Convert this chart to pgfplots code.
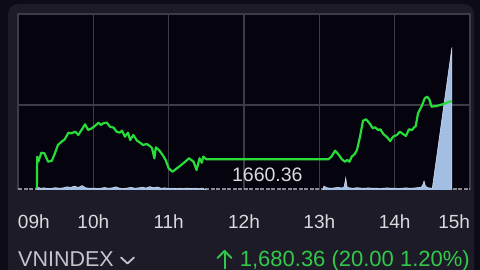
\documentclass[border=0pt]{standalone}
\usepackage{fontspec}
\setmainfont{Liberation Sans}
\usepackage{pgfplots}
\pgfplotsset{compat=1.18}
\definecolor{outerbg}{HTML}{0C0B17}
\definecolor{cardbg}{HTML}{1C1B27}
\definecolor{plotbg}{HTML}{05040E}
\definecolor{gridgray}{HTML}{3D3C46}
\definecolor{basegray}{HTML}{8C8C94}
\definecolor{volfill}{HTML}{A3BEE3}
\definecolor{voledge}{HTML}{D0DDF2}
\definecolor{pricegreen}{HTML}{28DC3A}
\definecolor{textgreen}{HTML}{34C84A}
\definecolor{ticktext}{HTML}{DADADE}
\definecolor{nametext}{HTML}{C4C4CA}
\begin{document}
\begin{tikzpicture}[x=1pt,y=1pt]
\useasboundingbox (0,0) rectangle (480,270);
\fill[outerbg] (0,0) rectangle (480,270);
\fill[cardbg, rounded corners=10pt] (8,-20) rectangle (474,266);
% volume axis (with frame, grid and tick labels)
\begin{axis}[at={(18pt,80pt)}, anchor=south west, scale only axis,
  width=452pt, height=176pt,
  xmin=9, xmax=15, ymin=0, ymax=100, clip=false,
  axis background/.style={fill=plotbg},
  axis line style={draw=none},
  xtick={9.21,10,11,12,13,14,14.79},
  xticklabels={09h,10h,11h,12h,13h,14h,15h},
  minor xtick={10,11,12,13,14}, xminorgrids, xmajorgrids=false,
  ytick={48.3}, yticklabels={}, ymajorgrids,
  major tick length=0pt, minor tick length=0pt,
  grid style={gridgray, line width=1.6pt},
  minor grid style={gridgray, line width=1.6pt},
  xticklabel style={font=\fontsize{19}{19}\selectfont, text=ticktext,
    anchor=north, inner sep=0pt, yshift=-25pt},
]
\draw[gridgray, line width=1.6pt] (rel axis cs:0,0) -- (rel axis cs:0,1) -- (rel axis cs:1,1) -- (rel axis cs:1,0);
\draw[basegray, line width=2.5pt, dash pattern=on 4pt off 1.5pt] (rel axis cs:0,0.006) -- (rel axis cs:1,0.006);
\addplot[fill=volfill, draw=voledge, line width=0.6pt] coordinates {
(9.25,0) (9.26,1.5) (9.3,1) (9.35,1.2) (9.4,0.8) (9.45,1) (9.5,1.3) (9.55,1) (9.6,1.2)
(9.65,1.8) (9.7,1.5) (9.75,2.2) (9.8,1.4) (9.85,2.5) (9.9,1.2) (9.95,1) (10.0,1.1)
(10.05,0.9) (10.1,1) (10.15,1.4) (10.2,1) (10.25,1.2) (10.3,1.8) (10.35,1) (10.4,0.9)
(10.45,1.1) (10.5,1.5) (10.55,1) (10.6,1.2) (10.65,1.6) (10.7,1.1) (10.75,1.9) (10.8,1.3)
(10.85,1.7) (10.9,1) (10.95,1.2) (11.0,0.9) (11.05,1) (11.1,0.8) (11.15,1) (11.2,0.9)
(11.25,1.1) (11.3,0.8) (11.35,1) (11.4,0.9) (11.45,1) (11.5,0)
};
\addplot[fill=volfill, draw=voledge, line width=0.6pt] coordinates {
(13.05,0) (13.06,2.2) (13.1,1.3) (13.15,1) (13.2,1.2) (13.25,1.5) (13.3,1.1) (13.33,1.8)
(13.35,6.8) (13.37,1.6) (13.4,1.2) (13.45,1) (13.5,1.3) (13.55,1.1) (13.6,1) (13.65,1.2)
(13.7,1) (13.75,1.1) (13.8,0.9) (13.85,1) (13.9,1.2) (13.95,1) (14.0,1.1) (14.05,0.9)
(14.1,1) (14.15,1.2) (14.2,1) (14.25,1.1) (14.3,1.3) (14.35,1.5) (14.37,2.5) (14.39,5)
(14.41,2) (14.45,1.2) (14.5,1) (14.76,81) (14.76,0)
};
\node[font=\fontsize{19.5}{19.5}\selectfont, text=ticktext] at (axis cs:12.31,8.5) {1660.36};
\end{axis}
% price axis
\begin{axis}[at={(18pt,80pt)}, anchor=south west, scale only axis,
  width=452pt, height=176pt,
  xmin=9, xmax=15, ymin=1660, ymax=1700.3, hide axis]
\addplot[pricegreen, line width=2.2pt, line join=round] coordinates {
(9.25,1660.36) (9.255,1667.63) (9.27,1666.48) (9.31,1668.54) (9.35,1668.40) (9.40,1666.48)
(9.45,1666.71) (9.49,1668.40) (9.53,1670.31) (9.58,1671.06) (9.62,1671.61) (9.67,1673.12)
(9.71,1672.98) (9.76,1673.35) (9.80,1672.60) (9.85,1673.90) (9.89,1675.05) (9.93,1673.74)
(9.98,1674.13) (10.02,1674.66) (10.07,1675.41) (10.10,1674.89) (10.13,1675.27) (10.18,1675.41)
(10.22,1674.50) (10.27,1674.27) (10.31,1673.35) (10.35,1673.12) (10.38,1673.58) (10.42,1672.21)
(10.46,1673.12) (10.49,1671.45) (10.53,1672.60) (10.58,1671.29) (10.62,1670.83) (10.66,1670.31)
(10.71,1670.53) (10.75,1670.08) (10.78,1669.55) (10.81,1667.26) (10.83,1669.78) (10.87,1669.16)
(10.92,1668.02) (10.96,1666.87) (11.00,1664.97) (11.05,1664.19) (11.08,1664.58) (11.15,1665.50)
(11.22,1666.48) (11.27,1667.26) (11.33,1666.48) (11.37,1664.58) (11.41,1667.26) (11.44,1666.25)
(11.46,1667.63) (11.50,1667.03) (13.12,1667.03) (13.16,1667.63) (13.21,1669.00) (13.25,1668.24)
(13.30,1667.03) (13.34,1666.48) (13.37,1666.87) (13.40,1666.48) (13.43,1667.63) (13.47,1668.24)
(13.50,1669.16) (13.54,1672.21) (13.58,1675.87) (13.62,1676.19) (13.66,1675.41) (13.71,1674.13)
(13.74,1674.36) (13.78,1673.74) (13.81,1673.90) (13.85,1672.82) (13.90,1672.07) (13.94,1671.22)
(13.98,1672.21) (14.03,1672.60) (14.07,1673.35) (14.11,1672.82) (14.15,1672.37) (14.19,1673.90)
(14.23,1673.74) (14.26,1674.36) (14.28,1674.66) (14.31,1677.56) (14.36,1679.24) (14.40,1681.00)
(14.43,1681.37) (14.46,1680.77) (14.49,1679.08) (14.56,1679.24) (14.65,1679.69) (14.69,1679.99)
(14.76,1680.36)
};
\end{axis}
% footer
\node[anchor=base west, inner sep=0pt, font=\fontsize{21.5}{21.5}\selectfont, text=nametext] at (18,3.5) {VNINDEX};
\draw[nametext, line width=1.8pt, line cap=round, line join=round] (121,12.5) -- (127.5,6.5) -- (134,12.5);
\draw[textgreen, line width=2pt, line cap=round, line join=round] (224.5,1.5) -- (224.5,19);
\draw[textgreen, line width=2pt, line cap=round, line join=round] (217.5,12) -- (224.5,19) -- (231.5,12);
\node[anchor=base east, inner sep=0pt, font=\fontsize{22}{22}\selectfont, text=textgreen] at (470,3.5) {1,680.36 (20.00 1.20\%)};
\end{tikzpicture}
\end{document}
